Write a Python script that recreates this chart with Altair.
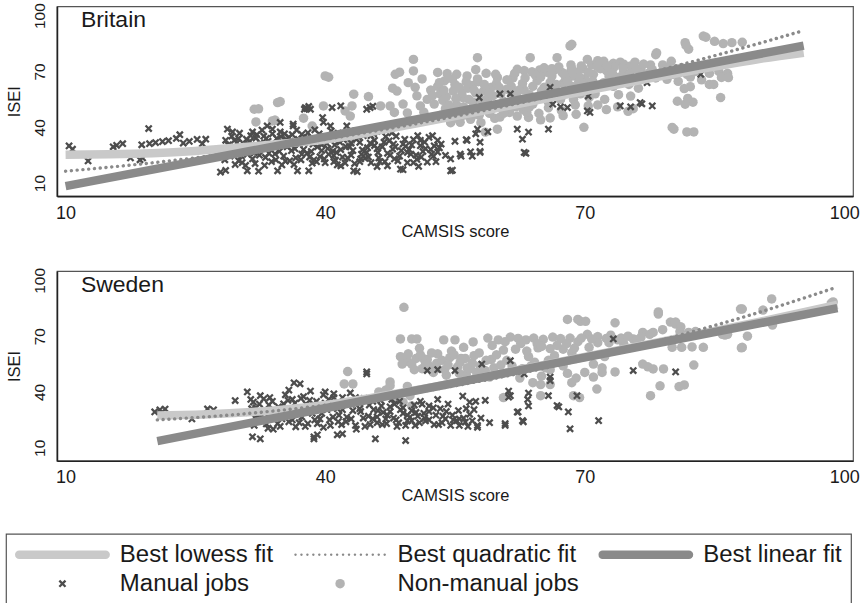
import math

import altair as alt
import pandas as pd

# ---------------------------------------------------------------- data
countries = ["Britain", "Sweden"]
series_names = ["Best lowess fit", "Best quadratic fit", "Best linear fit",
                "Manual jobs", "Non-manual jobs"]
series_colors = ["#c9c9c9", "#8a8a8a", "#8a8a8a", "#4d4d4d", "#b3b3b3"]

x_ticks = [10, 40, 70, 100]
y_ticks = [10, 40, 70, 100]

# (CAMSIS score, ISEI) for each occupation
britain_manual = [
    (10.4, 30), (10.8, 28.2), (12.6, 21.9), (15.5, 29.5), (15.9, 30.3), (16.6, 31.2),
    (17.5, 23.5), (18.6, 22.5), (18.9, 23.5), (19.6, 39.3), (18.8, 30.6), (19.7, 31.2),
    (20.4, 31.8), (21.2, 32.3), (21.9, 32.8), (22.8, 34), (23.2, 36), (23.6, 31.5),
    (24.3, 32.4), (25.2, 33.5), (25.8, 31.2), (26.2, 33.6), (27.9, 15.9), (28.5, 16.8),
    (28.7, 39), (29.3, 37.5), (28.4, 22.5), (29.0, 28.0), (29.6, 20.0), (30.3, 24.6),
    (30.8, 19.5), (28.5, 33), (29.2, 35.2), (29.8, 31.5), (30.1, 36.8), (30.5, 28.4),
    (30.9, 33.6), (31.2, 30.2), (31.0, 16.6), (31.6, 37.5), (31.8, 26.3), (32.0, 34.2),
    (32.3, 16.4), (32.5, 31.6), (32.9, 35.2), (33.1, 23.8), (33.3, 40.7), (33.6, 28.9),
    (33.9, 36.5), (34.2, 25.7), (34.5, 16.6), (34.8, 42.6), (34.8, 37.5), (35.1, 31.9),
    (35.4, 21.8), (35.8, 34.7), (36.1, 27.4), (36.3, 40.7), (36.3, 41.7), (36.6, 23.6),
    (36.8, 16.6), (37.0, 30.8), (37.3, 36.2), (37.7, 50.6), (37.9, 50.0), (38.1, 51.2),
    (37.6, 49.7), (38.3, 49.7), (37.9, 26.1), (38.1, 16.6), (38.3, 33.2), (38.5, 20.7),
    (38.8, 38.6), (39.1, 29.5), (39.4, 24.2), (39.7, 45.2), (39.8, 42.7), (39.9, 35.0),
    (40.2, 31.3), (40.6, 40.7), (40.8, 50.6), (40.9, 27.2), (41.2, 22.3), (41.5, 36.9),
    (41.8, 51.5), (41.8, 19.3), (42.1, 33.4), (42.5, 40.7), (42.8, 29.6), (43.0, 25.0),
    (43.3, 16.6), (43.5, 38.1), (43.7, 16.2), (44.0, 31.9), (44.3, 27.8), (44.6, 23.3),
    (44.8, 49.7), (45.2, 50.6), (45.5, 51.3), (45.3, 35.5), (45.7, 30.2), (46.1, 26.4),
    (46.5, 37.8), (46.9, 21.6), (47.2, 19.3), (47.4, 32.7), (47.8, 28.3), (48.2, 35.2),
    (48.7, 17.5), (49.0, 17.2), (49.3, 29.8), (49.9, 25.5), (50.2, 33.4), (50.6, 22.7),
    (51.0, 30.1), (51.3, 27.0), (52.0, 34.6), (52.5, 24.5), (53.0, 26.7), (53.4, 31.0),
    (53.9, 24.9), (54.5, 16.6), (54.7, 16.9), (55.0, 32.5), (55.6, 25.6), (56.3, 33.3),
    (56.8, 26.8), (57.6, 39.0), (57.9, 27.0), (57.4, 36.5), (40.0, 21.0), (41.0, 24.9),
    (42.3, 20.8), (44.0, 21.5), (45.0, 24.0), (46.0, 18.9), (48.0, 23.0), (49.5, 21.0),
    (50.8, 19.0), (51.8, 21.3), (52.4, 35.5), (53.0, 33.0), (52.6, 30.0), (54.5, 23.0),
    (55.7, 24.5), (57.0, 24.5), (57.9, 26.5), (57.9, 32.0), (56.4, 33.0), (58.8, 37.6),
    (57.8, 56.0), (60.2, 58.0), (61.4, 58.0), (62.2, 39.0), (62.8, 33.6), (63.0, 26.5),
    (63.2, 26.0), (63.5, 37.4), (63.4, 55.0), (65.8, 39.0), (66.0, 61.5), (66.3, 52.4),
    (67.2, 51.0), (68.0, 50.6), (70.3, 48.8), (70.6, 48.0), (70.4, 56.8), (74.1, 51.5),
    (75.3, 51.0), (76.4, 53.3), (76.6, 52.6), (77.2, 64.0), (77.8, 51.5), (83.4, 68.5),
    (29.0, 24.5), (29.5, 33.0), (30.0, 22.0), (30.6, 31.0), (31.0, 25.5), (31.4, 35.5),
    (31.9, 20.5), (32.2, 28.5), (32.7, 38.5), (33.0, 19.5), (33.4, 32.5), (33.8, 21.5),
    (34.0, 30.5), (34.4, 34.0), (34.7, 27.0), (35.0, 19.8), (35.3, 36.5), (35.6, 29.5),
    (36.0, 32.5), (36.4, 20.0), (36.7, 38.5), (37.2, 22.5), (37.5, 28.0), (37.9, 34.5),
    (38.2, 24.0), (38.6, 31.0), (39.0, 21.5), (39.3, 36.5), (39.6, 27.5), (40.0, 33.5),
    (40.4, 25.5), (40.7, 38.0), (41.1, 30.5), (41.4, 19.8), (41.8, 28.0), (42.2, 36.0),
    (42.6, 23.5), (43.0, 31.5), (43.4, 20.5), (43.8, 35.0), (44.2, 25.5), (44.5, 38.5),
    (44.9, 29.0), (45.3, 21.0), (45.7, 33.0), (46.2, 23.5), (46.6, 29.5), (47.0, 35.0),
    (47.5, 25.0), (47.9, 31.0), (48.4, 22.0), (48.8, 27.5), (49.2, 33.5), (49.7, 28.0),
    (50.2, 21.0), (50.7, 35.5), (51.1, 24.0), (51.5, 32.0), (52.2, 28.0), (52.8, 21.5),
    (28.8, 30.5), (29.4, 26.0), (30.0, 34.0), (30.4, 21.0), (30.7, 27.0), (31.3, 32.5),
    (31.6, 23.0), (32.1, 36.0), (32.4, 25.0), (32.8, 29.5), (33.2, 34.0), (33.5, 26.0),
    (33.9, 39.0), (34.3, 22.5), (34.6, 31.0), (34.9, 35.0), (35.2, 24.5), (35.5, 33.5),
    (35.9, 22.0), (36.2, 36.0), (36.5, 28.5), (36.9, 33.5), (37.3, 25.5), (37.6, 31.5),
    (38.0, 37.0), (38.4, 27.0), (38.7, 22.5), (39.2, 33.0), (39.6, 30.5), (39.9, 23.0),
    (40.3, 28.5), (40.6, 34.5), (41.0, 21.5), (41.3, 26.5), (41.7, 32.0), (42.0, 24.0),
    (42.4, 29.5), (42.8, 37.5), (43.2, 27.5), (43.6, 33.5), (44.1, 23.0), (44.4, 35.5),
    (44.8, 26.5), (45.2, 31.5), (45.6, 36.5), (46.0, 28.5), (46.3, 21.5), (46.8, 32.0),
    (47.2, 26.0), (47.7, 37.0), (48.1, 29.5), (48.6, 24.5), (49.0, 31.0), (49.5, 26.5),
    (50.0, 30.5), (50.5, 25.0), (51.0, 33.0), (51.6, 28.5), (52.3, 25.5), (53.2, 29.0),
]

britain_nonmanual = [
    (31.8, 49.7), (32.3, 49.9), (32.0, 42.9), (33.9, 43.4), (34.2, 43.9), (34.5, 53.3),
    (34.8, 53.8), (37.5, 44.9), (38.5, 40.7), (39.8, 51.5), (40.0, 67.6), (40.4, 66.9),
    (42.3, 48.8), (42.9, 46.0), (43.1, 51.5), (43.3, 57.8), (46.4, 51.5), (47.5, 51.5),
    (48.0, 48.0), (48.3, 59.5), (48.1, 68.5), (48.6, 69.6), (50.2, 70.3), (50.2, 76.5),
    (49.5, 47.7), (50.6, 56.9), (51.0, 51.5), (51.4, 48.1), (51.8, 55.0), (42.9, 31.8),
    (53.0, 62.0), (53.3, 58.0), (53.6, 54.5), (53.9, 50.0), (54.2, 46.0), (54.5, 42.5),
    (54.8, 59.5), (55.2, 52.0), (55.6, 42.7), (55.9, 56.0), (56.2, 48.5), (56.5, 61.0),
    (56.8, 44.3), (57.1, 53.5), (57.4, 58.5), (57.8, 46.5), (58.1, 50.5), (58.5, 37.4),
    (58.8, 55.5), (59.2, 61.5), (59.6, 44.8), (59.9, 39.0), (59.9, 52.0), (60.3, 58.0),
    (53.0, 69.5), (54.1, 68.9), (55.2, 68.5), (56.4, 67.6), (57.6, 77.4), (57.4, 71.0),
    (58.6, 69.0), (59.9, 66.8), (61.4, 59.5), (62.2, 71.2), (63.0, 70.5), (63.7, 77.4),
    (63.9, 69.8), (64.8, 70.8), (65.6, 69.6), (66.8, 77.4), (66.5, 70.9), (67.4, 69.4),
    (68.3, 83.7), (68.5, 84.6), (68.4, 70.4), (69.1, 69.6), (62.0, 51.0), (62.9, 49.5),
    (60.5, 50.2), (62.2, 46.0), (63.5, 45.3), (64.9, 44.0), (64.5, 65.0), (66.0, 64.2),
    (67.5, 63.6), (65.5, 56.0), (67.0, 57.5), (66.0, 45.0), (67.5, 46.3), (69.0, 47.0),
    (61.5, 62.0), (63.0, 60.0), (61.8, 55.5), (68.7, 55.0), (69.5, 58.0), (70.5, 56.0),
    (71.5, 52.0), (72.5, 49.5), (73.8, 51.0), (75.0, 48.6), (75.6, 50.0), (68.5, 62.0),
    (71.0, 61.0), (72.2, 64.0), (73.3, 62.0), (69.9, 40.0), (70.3, 76.5), (71.5, 75.8),
    (72.2, 75.5), (73.3, 74.4), (74.1, 75.0), (74.5, 73.9), (68.6, 67.5), (69.8, 71.5),
    (71.0, 68.5), (72.5, 70.5), (74.0, 67.0), (75.3, 73.0), (76.5, 71.0), (77.5, 69.5),
    (78.3, 80.0), (78.2, 79.0), (79.0, 73.5), (80.2, 68.5), (81.2, 72.0), (82.2, 67.0),
    (75.3, 56.8), (79.5, 65.8), (80.8, 64.7), (81.5, 60.8), (82.2, 61.8), (80.7, 54.0),
    (81.6, 52.4), (82.5, 53.5), (81.9, 55.5), (85.7, 56.0), (80.3, 39.0), (81.8, 37.5),
    (82.6, 37.5), (80.1, 39.9), (81.6, 85.5), (82.0, 82.0), (81.7, 84.0), (83.7, 89.0),
    (84.0, 88.4), (85.0, 86.2), (86.0, 85.0), (87.0, 85.5), (88.2, 85.7), (84.2, 72.0),
    (85.5, 70.0), (86.5, 69.0), (85.8, 66.8), (84.4, 63.0), (84.9, 63.0), (84.4, 69.0),
    (86.6, 66.7), (47.5, 40.0),
    (52.2, 60.0), (52.6, 52.5), (53.4, 46.5), (53.8, 65.0), (54.0, 56.5), (54.6, 49.0),
    (55.0, 63.0), (55.4, 44.5), (55.8, 58.5), (56.0, 51.0), (56.6, 55.0), (57.0, 62.5),
    (57.3, 47.0), (57.7, 64.5), (58.0, 42.5), (58.3, 59.5), (58.7, 52.5), (59.0, 47.5),
    (59.4, 57.0), (59.8, 63.5), (60.2, 45.5), (60.6, 54.0), (61.0, 60.5), (61.3, 48.0),
    (61.7, 66.5), (62.1, 57.0), (62.5, 53.0), (62.8, 63.5), (63.3, 48.0), (63.6, 57.5),
    (64.0, 52.5), (64.3, 68.0), (64.7, 47.5), (65.0, 59.5), (65.3, 72.0), (65.8, 50.5),
    (66.2, 67.5), (66.6, 60.0), (67.0, 72.5), (67.3, 49.0), (67.8, 66.0), (68.1, 58.5),
    (68.4, 73.5), (68.9, 52.0), (69.3, 64.5), (69.6, 73.0), (70.0, 66.0), (70.4, 51.5),
    (70.8, 73.5), (71.2, 58.0), (71.8, 71.5), (72.3, 55.0), (72.8, 67.5), (73.4, 72.5),
    (73.9, 57.5), (74.5, 70.0), (75.1, 63.0), (75.8, 75.0), (76.2, 61.0), (76.9, 68.0),
    (77.6, 73.5), (78.2, 66.5), (79.2, 70.5), (80.0, 75.5), (81.0, 69.5), (82.8, 70.0),
    (83.5, 65.5), (45.0, 56.5), (47.8, 61.0), (49.0, 52.5), (49.6, 64.0), (50.4, 61.5),
    (51.2, 66.0),
    (52.4, 57.0), (53.2, 64.0), (53.7, 60.0), (54.3, 52.0), (54.7, 66.0), (55.1, 55.5),
    (55.5, 61.5), (56.0, 46.5), (56.3, 64.5), (56.9, 50.0), (57.2, 60.0), (57.6, 66.0),
    (58.1, 54.5), (58.4, 63.0), (58.9, 58.5), (59.3, 50.0), (59.7, 68.5), (60.1, 61.5),
    (60.6, 47.5), (61.0, 65.5), (61.4, 53.0), (61.9, 69.0), (62.4, 60.0), (62.7, 55.0),
    (63.1, 66.5), (63.6, 51.0), (64.0, 62.0), (64.4, 55.5), (64.9, 67.0), (65.3, 61.5),
    (65.8, 53.5), (66.2, 71.5), (66.7, 63.0), (67.2, 55.0), (67.6, 68.5), (68.0, 64.5),
    (68.5, 71.5), (69.0, 61.5), (69.4, 67.0), (69.9, 63.5), (70.4, 69.5), (70.9, 65.0),
    (71.4, 73.0), (72.0, 62.5), (72.6, 73.0), (73.2, 69.0), (73.8, 64.5), (74.4, 72.0),
    (75.2, 68.5), (75.9, 71.5), (76.8, 74.0), (77.8, 71.0), (78.8, 68.0), (79.6, 72.5),
    (80.6, 71.5), (81.8, 68.5),
]

sweden_manual = [
    (20.3, 29.3), (20.9, 30.4), (21.5, 30.8), (24.6, 25.5), (26.4, 30.9), (27.1, 30.4),
    (29.6, 35.4), (31.0, 40.0), (31.4, 36.0), (31.7, 34.6), (32.0, 31.5), (32.3, 28.0),
    (32.6, 24.5), (32.9, 36.3), (33.2, 22.8), (33.5, 33.0), (33.8, 26.5), (34.1, 30.0),
    (34.5, 23.0), (31.6, 15.9), (32.5, 14.8), (35.2, 33.6), (35.5, 28.0), (35.8, 41.0),
    (35.8, 24.0), (36.2, 36.0), (36.4, 44.9), (36.6, 21.3), (36.9, 31.0), (37.1, 44.4),
    (37.3, 26.5), (37.5, 37.5), (37.8, 33.5), (38.0, 23.0), (38.3, 40.5), (38.5, 28.5),
    (38.7, 14.8), (38.7, 15.9), (39.0, 35.0), (39.1, 17.0), (39.4, 25.5), (39.8, 38.5),
    (40.0, 40.0), (41.0, 39.0), (40.2, 30.5), (40.6, 22.0), (41.0, 33.0), (41.4, 17.0),
    (41.6, 27.5), (42.0, 37.0), (42.0, 17.5), (42.4, 24.0), (42.9, 39.5), (43.2, 30.0),
    (43.6, 20.0), (44.0, 34.0), (44.4, 26.0), (44.8, 49.7), (44.8, 50.8), (45.2, 22.5),
    (45.6, 30.5), (45.8, 14.8), (46.0, 26.6), (46.4, 35.5), (46.7, 29.0), (47.1, 23.0),
    (47.5, 32.0), (47.9, 26.0), (48.3, 21.5), (48.6, 35.0), (49.0, 28.5), (49.3, 13.9),
    (49.5, 24.5), (50.0, 30.0), (50.4, 22.0), (50.7, 27.0), (51.2, 33.5), (51.6, 24.5),
    (51.8, 51.5), (52.0, 29.5), (52.6, 22.5), (53.0, 36.0), (53.3, 31.0), (53.9, 25.5),
    (54.5, 22.0), (53.0, 52.0), (55.0, 51.5), (55.2, 24.6), (55.5, 22.0), (55.9, 37.8),
    (56.2, 23.8), (56.7, 34.5), (56.7, 28.0), (57.4, 35.0), (57.6, 21.0), (57.6, 22.0),
    (58.1, 55.0), (60.8, 22.0), (60.8, 23.0), (61.2, 40.5), (61.2, 37.2), (61.4, 56.8),
    (61.4, 38.0), (62.2, 29.2), (62.3, 29.3), (62.8, 24.6), (62.9, 24.0), (63.0, 49.7),
    (63.4, 36.0), (63.5, 39.4), (63.5, 32.5), (65.8, 38.0), (66.0, 46.1), (66.0, 48.0),
    (66.8, 32.7), (67.0, 32.0), (68.1, 29.3), (68.3, 20.2), (69.1, 38.0), (71.6, 24.6),
    (73.3, 68.5), (75.6, 51.5), (80.5, 50.8),
    (31.2, 29.0), (31.8, 22.0), (32.4, 33.5), (33.0, 26.0), (33.6, 37.0), (34.0, 20.0),
    (34.6, 32.0), (35.0, 25.5), (35.4, 38.5), (36.0, 29.5), (36.5, 34.0), (37.0, 23.5),
    (37.6, 30.0), (38.2, 35.5), (38.8, 25.0), (39.3, 31.5), (39.8, 21.0), (40.4, 36.0),
    (40.9, 26.5), (41.4, 31.0), (41.9, 22.5), (42.5, 34.5), (43.0, 25.5), (43.5, 37.0),
    (44.1, 29.5), (44.6, 21.5), (45.1, 33.0), (45.5, 25.5), (46.1, 30.0), (46.6, 22.5),
    (47.2, 27.5), (47.7, 36.0), (48.2, 25.0), (48.7, 30.5), (49.3, 22.0), (49.8, 26.5),
    (50.3, 33.0), (50.9, 23.5), (51.4, 28.5), (52.0, 25.0), (52.5, 31.5), (53.1, 22.5),
    (53.6, 27.0), (54.2, 33.5), (54.8, 25.0), (55.4, 30.0), (56.0, 26.0), (56.5, 21.5),
    (57.2, 30.5), (58.0, 26.0), (58.5, 35.5), (59.0, 23.5),
    (31.5, 31.0), (32.0, 25.5), (32.5, 38.0), (33.0, 30.5), (33.4, 20.5), (33.9, 35.0),
    (34.3, 27.0), (34.8, 21.5), (35.2, 30.5), (35.7, 35.5), (36.2, 25.0), (36.7, 29.0),
    (37.2, 36.5), (37.7, 21.5), (38.1, 30.5), (38.6, 33.5), (39.1, 23.0), (39.6, 28.5),
    (40.0, 34.0), (40.5, 25.0), (41.0, 37.0), (41.5, 24.0), (42.0, 30.5), (42.5, 26.5),
    (43.0, 33.5), (43.5, 22.0), (44.0, 31.0), (44.5, 36.5), (45.0, 27.0), (45.5, 35.0),
    (46.0, 23.5), (46.5, 32.5), (47.0, 25.5), (47.5, 29.5), (48.0, 33.5), (48.5, 23.5),
    (49.0, 31.5), (49.5, 27.5), (50.0, 24.5), (50.5, 29.0), (51.0, 35.0), (51.5, 26.0),
    (52.0, 32.5), (52.8, 27.5), (53.5, 23.5), (54.0, 29.5), (54.7, 27.5), (55.5, 25.5),
    (56.3, 31.0), (57.0, 24.5),
]

sweden_nonmanual = [
    (42.2, 44.3), (43.2, 44.3), (42.6, 51.0), (46.2, 40.0), (47.5, 45.4), (47.5, 43.4),
    (47.0, 41.0), (48.5, 36.0), (49.0, 34.5), (48.7, 68.5), (49.1, 85.5), (48.7, 59.0),
    (49.5, 56.5), (49.5, 43.0), (49.8, 38.0), (50.0, 32.5), (50.0, 68.5), (50.6, 68.5),
    (50.5, 58.0), (51.2, 52.5), (51.4, 57.8), (51.8, 57.5), (52.5, 50.5), (52.9, 55.5),
    (53.7, 68.0), (54.0, 49.0), (54.4, 58.5), (55.0, 68.0), (55.3, 53.5), (55.6, 56.0),
    (56.0, 64.0), (56.3, 49.5), (56.8, 52.5), (57.1, 66.9), (57.5, 50.5), (58.0, 48.0),
    (58.8, 69.0), (59.0, 48.0), (59.3, 65.0), (59.5, 53.0), (60.3, 54.5), (60.6, 62.5),
    (60.6, 37.0), (61.4, 69.5), (61.4, 51.0), (62.3, 68.8), (62.5, 47.5), (63.2, 68.0),
    (63.8, 54.0), (64.0, 45.0), (64.1, 69.0), (64.6, 63.7), (64.9, 38.0), (64.9, 44.0),
    (65.2, 68.3), (65.5, 53.0), (66.0, 44.0), (66.0, 52.0), (66.3, 69.5), (66.0, 63.3),
    (67.2, 68.7), (67.5, 63.0), (68.0, 79.0), (68.0, 50.0), (68.3, 69.0), (68.5, 45.0),
    (68.7, 38.0), (69.2, 67.0), (69.2, 79.0), (69.0, 58.0), (69.4, 37.0), (69.5, 78.0),
    (70.1, 78.0), (70.3, 71.0), (71.0, 55.0), (71.4, 41.6), (71.5, 69.8), (72.0, 53.0),
    (72.5, 68.8), (73.5, 50.8), (73.5, 77.2), (74.2, 69.0), (75.6, 68.5), (76.7, 72.0),
    (76.7, 55.0), (77.3, 53.5), (77.6, 38.0), (77.9, 72.0), (77.9, 52.4), (78.5, 81.9),
    (78.5, 83.0), (78.7, 43.3), (79.1, 52.4), (79.9, 77.6), (80.5, 77.6), (80.5, 76.5),
    (80.1, 64.0), (80.9, 42.9), (81.1, 75.0), (81.5, 43.8), (81.2, 64.0), (82.0, 72.0),
    (82.6, 54.5), (82.8, 72.5), (82.4, 64.2), (83.7, 64.0), (85.9, 71.0), (86.5, 71.0),
    (86.2, 70.6), (88.0, 84.6), (88.2, 84.6), (88.8, 70.0), (88.2, 64.0), (88.1, 63.7),
    (90.6, 84.0), (91.6, 90.0), (91.7, 76.0), (98.5, 87.8), (98.7, 88.4),
    (50.0, 55.0), (51.0, 60.0), (52.0, 54.0), (53.0, 60.5), (53.8, 52.0), (54.6, 62.0),
    (55.5, 50.0), (56.2, 58.0), (57.0, 55.5), (57.8, 61.0), (58.5, 51.5), (59.2, 57.5),
    (60.0, 68.0), (60.5, 50.0), (61.0, 57.0), (62.0, 63.0), (62.8, 52.5), (63.5, 59.0),
    (64.5, 66.0), (65.0, 48.5), (65.8, 57.0), (66.8, 65.0), (67.5, 54.0), (68.5, 61.0),
    (69.6, 69.0), (70.5, 64.0), (71.5, 66.5), (72.3, 59.0), (73.0, 70.5), (74.5, 66.0),
    (76.0, 68.0), (69.0, 47.5), (70.0, 50.5), (71.0, 48.0), (72.0, 50.5),
    (48.9, 55.0), (49.6, 60.5), (50.3, 52.0), (50.9, 63.5), (51.6, 55.0), (52.3, 61.0),
    (52.9, 52.5), (53.5, 57.0), (54.2, 54.5), (54.9, 60.0), (55.7, 58.0), (56.4, 53.0),
    (57.2, 59.5), (57.9, 54.0), (58.6, 57.0), (59.8, 60.0), (60.8, 67.0), (61.6, 54.0),
    (62.6, 66.0), (63.3, 62.0), (64.2, 56.0), (65.0, 64.5), (66.5, 59.5), (67.9, 66.0),
    (68.8, 63.5), (70.8, 68.5), (72.8, 66.5), (73.8, 68.0), (75.0, 70.0), (76.5, 69.5),
    (77.5, 71.0), (79.0, 73.5), (81.0, 72.5),
]

# fitted curves (CAMSIS score -> ISEI)
britain_lowess_x = [10, 15, 20, 25, 30, 35, 40, 45, 50, 60, 70, 80, 90, 95.3]
britain_lowess_y = [25.2, 25.5, 26.1, 27.3, 29.1, 31.2, 33.4, 37.2, 41.6, 50.5, 59.5, 68.5, 76.6, 80.1]
britain_quad_x = [10, 20, 30, 40, 50, 60, 70, 80, 90, 95.3]
britain_quad_y = [16.4, 20.9, 26.6, 33.5, 41.5, 50.6, 60.9, 72.3, 84.9, 92.0]
britain_linear_x = [10, 95.3]
britain_linear_y = [8.4, 83.9]

sweden_lowess_x = [20.6, 25, 30, 35, 40, 45, 50, 60, 70, 80, 90, 99.2]
sweden_lowess_y = [27.3, 27.8, 28.8, 30.5, 33.0, 36.5, 40.5, 49.6, 58.8, 68.1, 77.5, 86.9]
sweden_quad_x = [20.6, 30, 40, 50, 60, 70, 80, 90, 98.6]
sweden_quad_y = [25.0, 28.0, 32.9, 39.4, 47.7, 57.6, 69.3, 82.6, 95.5]
sweden_linear_x = [20.6, 99.2]
sweden_linear_y = [13.6, 85.1]

# ---------------------------------------------------------------- symbols
# Custom symbol paths in unit coordinates; with size SYMBOL_SIZE one unit
# spans sqrt(SYMBOL_SIZE) / 2 pixels, so the legend swatches come out as
# long strokes while the markers stay small.
SYMBOL_SIZE = 9025


def polygon(points):
    return "M" + "L".join(f"{x:.4f},{y:.4f}" for x, y in points) + "Z"


def disc(cx, cy, r, n=16):
    return polygon([(cx + r * math.cos(2 * math.pi * k / n),
                     cy + r * math.sin(2 * math.pi * k / n)) for k in range(n)])


def capsule(h, n=8):
    pts = []
    for k in range(n + 1):
        a = -math.pi / 2 + math.pi * k / n
        pts.append((1 - h + h * math.cos(a), h * math.sin(a)))
    for k in range(n + 1):
        a = math.pi / 2 + math.pi * k / n
        pts.append((-1 + h + h * math.cos(a), h * math.sin(a)))
    return polygon(pts)


def cross(a, w):
    return polygon([(0, w), (a - w, a), (a, a - w), (w, 0), (a, -a + w), (a - w, -a),
                    (0, -w), (-a + w, -a), (-a, -a + w), (-w, 0), (-a, a - w), (-a + w, a)])


dotted = "".join(disc(-0.94 + i * 0.1253, 0, 0.027, 8) for i in range(16))
shape_paths = [capsule(0.09), dotted, capsule(0.09), cross(0.082, 0.034), disc(0, 0, 0.1)]

# ---------------------------------------------------------------- styling
FONT = "Liberation Sans"
TEXT = "#1a1a1a"

x_scale = alt.Scale(domain=[9, 101], nice=False, zero=False)
y_scale = alt.Scale(domain=[3, 105], nice=False, zero=False)

x_axis = alt.Axis(values=x_ticks, title="CAMSIS score", ticks=False, grid=False,
                  labelFontSize=18, labelPadding=8, labelFlush=False, labelOverlap=False,
                  titleFontSize=16.5, titlePadding=1, titleFontWeight="normal")
y_axis = alt.Axis(values=y_ticks, title="ISEI", ticks=False, grid=False,
                  labelAngle=270, labelAlign="center", labelBaseline="alphabetic",
                  labelFontSize=15.5, labelPadding=12, labelFlush=False, labelOverlap=False,
                  titleFontSize=16.5, titlePadding=10, titleFontWeight="normal")

legend = alt.Legend(title=None, orient="none", legendX=-51, legendY=528,
                    direction="horizontal", columns=3, symbolSize=SYMBOL_SIZE,
                    symbolStrokeWidth=0, labelFontSize=24, labelFont=FONT,
                    labelColor=TEXT, labelOffset=10, labelLimit=400,
                    columnPadding=19, rowPadding=5, clipHeight=24, padding=9,
                    strokeColor="#555555")


def xy():
    return dict(x=alt.X("camsis:Q", scale=x_scale, axis=x_axis),
                y=alt.Y("isei:Q", scale=y_scale, axis=y_axis))


def line_frame(xs, ys):
    return pd.DataFrame({"camsis": xs, "isei": ys})


def panel(name, manual, nonmanual, lowess, quad, linear):
    pts = pd.DataFrame(
        [(x, y, "Non-manual jobs") for x, y in nonmanual]
        + [(x, y, "Manual jobs") for x, y in manual],
        columns=["camsis", "isei", "series"],
    )
    points = alt.Chart(pts).mark_point(
        filled=True, size=SYMBOL_SIZE, strokeWidth=0, opacity=1
    ).encode(
        **xy(),
        shape=alt.Shape("series:N", scale=alt.Scale(domain=series_names, range=shape_paths),
                        legend=legend),
        color=alt.Color("series:N", scale=alt.Scale(domain=series_names, range=series_colors),
                        legend=legend),
    )
    lowess_line = alt.Chart(line_frame(*lowess)).mark_line(
        color=series_colors[0], strokeWidth=8.5, interpolate="monotone"
    ).encode(**xy())
    quad_line = alt.Chart(line_frame(*quad)).mark_line(
        color=series_colors[1], strokeWidth=3.4, strokeDash=[0.1, 5.7], strokeCap="round",
        interpolate="monotone"
    ).encode(**xy())
    linear_line = alt.Chart(line_frame(*linear)).mark_line(
        color=series_colors[2], strokeWidth=8.5
    ).encode(**xy())
    label = alt.Chart(pd.DataFrame({"name": [name]})).mark_text(
        align="left", baseline="alphabetic", fontSize=23, font=FONT, color=TEXT
    ).encode(x=alt.value(24), y=alt.value(21), text="name:N")
    return alt.layer(points, lowess_line, quad_line, linear_line, label).properties(
        width=797, height=190
    )


britain = panel(countries[0], britain_manual, britain_nonmanual,
                (britain_lowess_x, britain_lowess_y),
                (britain_quad_x, britain_quad_y),
                (britain_linear_x, britain_linear_y))
sweden = panel(countries[1], sweden_manual, sweden_nonmanual,
               (sweden_lowess_x, sweden_lowess_y),
               (sweden_quad_x, sweden_quad_y),
               (sweden_linear_x, sweden_linear_y))

chart = alt.vconcat(britain, sweden, spacing=25).properties(
    padding={"left": 5, "top": 1, "right": 0, "bottom": 0},
    background="white",
).configure_view(
    stroke="#555555", strokeWidth=1.2
).configure_axis(
    domainColor="#222222", domainWidth=1.6, labelFont=FONT, titleFont=FONT,
    labelColor=TEXT, titleColor=TEXT
).configure_legend(
    strokeWidth=1.2, fillColor="white"
)

chart.save("out.html", embed_options={"renderer": "svg", "actions": False})
